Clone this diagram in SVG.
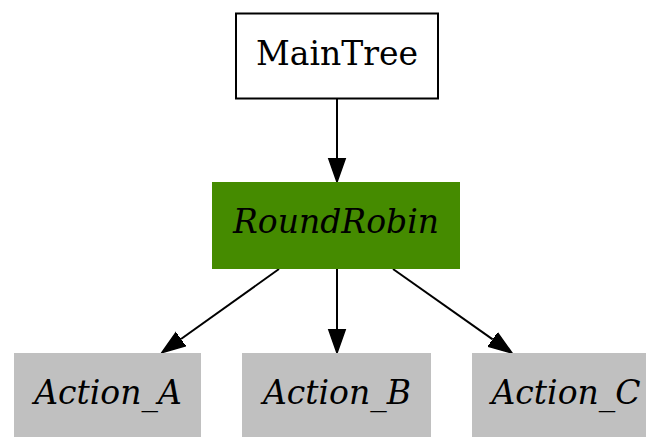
<svg xmlns="http://www.w3.org/2000/svg" width="646" height="437" viewBox="0 0 646 437">
<style>
  .lbl { font-family: "DejaVu Serif", "Liberation Serif", serif; font-size: 33px; fill: #000; text-anchor: middle; }
  .it { font-style: italic; }
  .edge { stroke: #000; stroke-width: 2; fill: none; }
</style>
<defs>
  <marker id="arr" markerUnits="userSpaceOnUse" markerWidth="26" markerHeight="20" viewBox="0 -10 26 20" refX="0" refY="0" orient="auto">
    <path d="M0,-8.3 L23.6,0 L0,8.3 z" fill="#000" stroke="#000" stroke-width="1.5"/>
  </marker>
</defs>
<rect width="646" height="437" fill="#fff"/>
<g id="connectors">
  <line class="edge" x1="337" y1="98" x2="337" y2="158.4" marker-end="url(#arr)"/>
  <line class="edge" x1="279" y1="269" x2="181" y2="339" marker-end="url(#arr)"/>
  <line class="edge" x1="337" y1="269" x2="337" y2="329.4" marker-end="url(#arr)"/>
  <line class="edge" x1="393" y1="269" x2="492.7" y2="339.4" marker-end="url(#arr)"/>
</g>
<g id="MainTree">
  <rect x="236" y="13.5" width="202" height="85" fill="#fff" stroke="#000" stroke-width="2"/>
  <text class="lbl" x="337" y="65">MainTree</text>
</g>
<g id="RoundRobin">
  <rect x="212" y="182" width="248" height="87" fill="#458b00"/>
  <text class="lbl it" x="336" y="233">RoundRobin</text>
</g>
<g id="Action_A">
  <rect x="14" y="353" width="187" height="85" fill="#c0c0c0"/>
  <text class="lbl it" x="108" y="404">Action_A</text>
</g>
<g id="Action_B">
  <rect x="242" y="353" width="189" height="85" fill="#c0c0c0"/>
  <text class="lbl it" x="337" y="404">Action_B</text>
</g>
<g id="Action_C">
  <rect x="472" y="353" width="188" height="85" fill="#c0c0c0"/>
  <text class="lbl it" x="566" y="404">Action_C</text>
</g>
</svg>
